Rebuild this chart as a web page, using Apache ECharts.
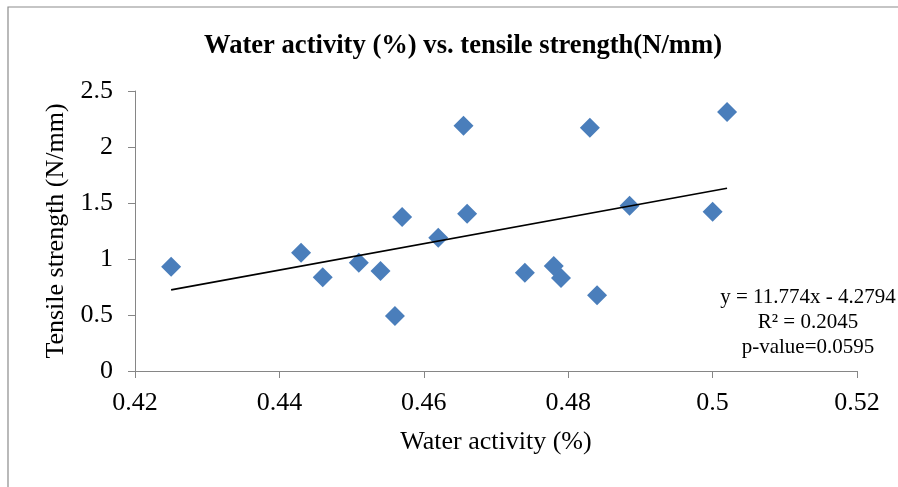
<!DOCTYPE html>
<html>
<head>
<meta charset="utf-8">
<style>
  html, body { margin: 0; padding: 0; background: #fff; }
  #chart { width: 898px; height: 487px; }
</style>
<script src="https://cdn.jsdelivr.net/npm/echarts@6/dist/echarts.min.js"></script>
</head>
<body>
<div id="chart"></div>
<script>
// Measured samples: water activity vs. tensile strength
const waterActivity = [0.425, 0.443, 0.446, 0.451, 0.454, 0.456, 0.457, 0.462, 0.4655,
                       0.466, 0.474, 0.478, 0.479, 0.483, 0.484, 0.4885, 0.500, 0.502];
const tensileStrength = [0.93, 1.055, 0.837, 0.967, 0.893, 0.49, 1.375, 1.19, 2.19,
                         1.405, 0.878, 0.937, 0.83, 2.172, 0.676, 1.476, 1.422, 2.312];

// Linear regression reported for the data
const slope = 11.774;
const intercept = -4.2794;
const fitLabels = ['y = 11.774x - 4.2794', 'R\u00B2 = 0.2045', 'p-value=0.0595'];

const xTicks = { min: 0.42, max: 0.52, step: 0.02 };
const yTicks = { min: 0, max: 2.5, step: 0.5 };

const FONT = '"Liberation Serif", "Times New Roman", serif';
const AXIS_GREY = '#868686';

const xLo = Math.min(...waterActivity);
const xHi = Math.max(...waterActivity);
const trend = [[xLo, slope * xLo + intercept], [xHi, slope * xHi + intercept]];

const chart = echarts.init(document.getElementById('chart'), null, { renderer: 'canvas' });

chart.setOption({
  animation: false,
  backgroundColor: '#fff',
  title: {
    text: 'Water activity (%) vs. tensile strength(N/mm)',
    left: 458, top: 28,
    textAlign: 'center',
    textStyle: { fontFamily: FONT, fontSize: 26.6, fontWeight: 'bold', color: '#000' }
  },
  grid: { left: 135, top: 91, right: 41, bottom: 116, containLabel: false },
  xAxis: {
    type: 'value',
    min: xTicks.min, max: xTicks.max, interval: xTicks.step,
    name: 'Water activity (%)',
    nameLocation: 'middle', nameGap: 58,
    nameTextStyle: { fontFamily: FONT, fontSize: 26, color: '#000' },
    axisLine: { show: true, onZero: false, lineStyle: { color: AXIS_GREY, width: 1 } },
    axisTick: { show: true, length: 7, lineStyle: { color: AXIS_GREY } },
    axisLabel: { fontFamily: FONT, fontSize: 26, color: '#000', margin: 19 },
    splitLine: { show: false }
  },
  yAxis: {
    type: 'value',
    min: yTicks.min, max: yTicks.max, interval: yTicks.step,
    name: 'Tensile strength (N/mm)',
    nameLocation: 'middle', nameGap: 64,
    nameTextStyle: { fontFamily: FONT, fontSize: 26, color: '#000' },
    axisLine: { show: true, lineStyle: { color: AXIS_GREY, width: 1 } },
    axisTick: { show: true, length: 7, lineStyle: { color: AXIS_GREY } },
    axisLabel: { fontFamily: FONT, fontSize: 26, color: '#000', margin: 22 },
    splitLine: { show: false }
  },
  series: [
    {
      name: 'Samples',
      type: 'scatter',
      symbol: 'diamond',
      symbolSize: 20,
      itemStyle: { color: '#4A7EBB', opacity: 1 },
      data: waterActivity.map((x, i) => [x, tensileStrength[i]]),
      z: 3
    },
    {
      name: 'Linear fit',
      type: 'line',
      data: trend,
      showSymbol: false,
      symbol: 'none',
      lineStyle: { color: '#000', width: 1.6 },
      z: 4
    }
  ],
  graphic: [
    {
      type: 'rect',
      shape: { x: 8, y: 7, width: 1000, height: 1000 },
      style: { fill: 'none', stroke: '#8c8c8c', lineWidth: 1.2 },
      silent: true, z: 0
    },
    {
      type: 'text',
      x: 808, y: 322,
      style: {
        text: fitLabels.join('\n'),
        font: '21px ' + FONT,
        fill: '#000',
        textAlign: 'center',
        textVerticalAlign: 'middle',
        lineHeight: 25
      },
      z: 10
    }
  ]
});
</script>
</body>
</html>
